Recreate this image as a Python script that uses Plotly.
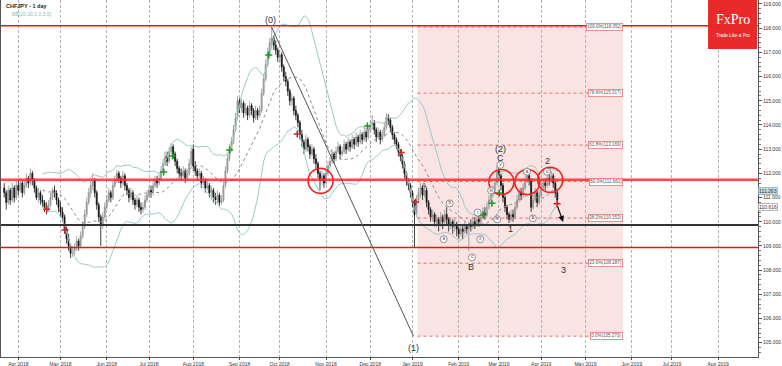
import numpy as np
import pandas as pd
import plotly.graph_objects as go

# ---------------- data (CHFJPY daily) ----------------
first_day = "2018-03-22"
opens = [
    111.4, 111.2, 110.8, 111.3, 110.9, 111.4, 111.0, 111.5, 111.3, 111.6,
    111.2, 111.5, 111.8, 111.6, 112.0, 111.7, 111.4, 111.0, 111.2, 110.9,
    110.8, 110.6, 110.5, 110.7, 111.0, 111.3, 111.2, 110.9, 110.6, 110.4,
    110.2, 109.7, 109.3, 109.0, 108.7, 108.8, 108.9, 109.2, 109.0, 109.4,
    109.8, 110.3, 110.8, 111.2, 111.5, 111.7, 111.2, 110.7, 110.2, 109.9,
    110.2, 110.6, 110.9, 111.2, 111.0, 111.5, 111.7, 112.0, 111.8, 111.6,
    111.9, 111.5, 111.3, 111.0, 111.2, 110.9, 110.7, 110.9, 110.6, 110.5,
    110.6, 110.9, 111.1, 111.3, 111.2, 111.5, 111.7, 111.6, 111.8, 112.1,
    112.4, 112.7, 112.5, 112.9, 113.1, 112.8, 112.5, 112.2, 112.0, 111.9,
    112.1, 111.8, 112.0, 112.4, 113.0, 112.3, 112.1, 111.9, 112.0, 111.6,
    111.7, 111.4, 111.5, 111.2, 111.3, 111.0, 110.9, 111.1, 110.8, 110.9,
    111.5, 112.1, 112.6, 113.0, 113.3, 113.8, 114.3, 115.0, 114.7, 114.9,
    114.5, 114.7, 114.4, 114.8, 114.6, 114.3, 114.6, 114.4, 114.6, 115.3,
    115.9, 116.5, 117.0, 117.4, 117.6, 117.3, 117.1, 116.8, 116.9, 116.4,
    116.0, 115.8, 115.4, 115.0, 115.1, 114.6, 114.4, 114.1, 113.6, 113.3,
    113.0, 113.4, 113.1, 112.8, 113.0, 112.6, 112.4, 112.0, 111.7, 111.9,
    111.6, 112.0, 112.3, 112.5, 112.8, 112.6, 112.9, 113.1, 112.8, 112.9,
    113.2, 113.0, 113.3, 113.1, 113.4, 113.2, 113.5, 113.3, 113.6, 113.4,
    113.7, 113.5, 113.8, 114.0, 114.1, 113.8, 113.5, 113.7, 113.4, 113.6,
    113.9, 114.3, 114.2, 113.9, 113.6, 113.4, 113.2, 112.9, 112.7, 112.4,
    112.0, 111.7, 111.5, 111.2, 110.8, 110.3, 110.9, 111.2, 111.4, 111.1,
    111.3, 110.8, 110.5, 110.2, 110.3, 110.0, 110.1, 109.9, 110.2, 110.0,
    110.3, 110.1, 109.9, 110.0, 109.8, 109.9, 109.7, 109.5, 109.7, 109.6,
    109.8, 109.7, 109.9, 109.8, 110.0, 109.9, 110.1, 110.0, 110.2, 110.4,
    110.3, 110.6, 110.9, 111.1, 111.3, 111.6, 112.1, 111.9, 111.5, 111.0,
    110.6, 110.3, 110.1, 110.3, 110.2, 110.6, 110.9, 111.2, 111.1, 111.4,
    111.7, 111.9, 111.7, 110.6, 110.9, 111.2, 110.8, 111.1, 111.4, 111.6,
    111.5, 111.8, 111.7, 111.9, 111.6, 111.2,
]
highs = [
    111.6, 111.3, 111.5, 111.4, 111.6, 111.5, 111.7, 111.7, 111.8, 111.7,
    111.7, 112.0, 111.9, 112.2, 112.1, 111.8, 111.5, 111.4, 111.3, 111.1,
    110.9, 110.8, 110.9, 111.2, 111.4, 111.5, 111.3, 111.0, 110.8, 110.6,
    110.3, 109.8, 109.5, 109.1, 109.0, 109.1, 109.4, 109.3, 109.6, 110.0,
    110.5, 111.0, 111.4, 111.7, 112.0, 111.8, 111.3, 110.8, 110.3, 110.4,
    110.8, 111.1, 111.4, 111.3, 111.7, 111.9, 112.15, 112.1, 111.9, 112.1,
    112.0, 111.6, 111.4, 111.4, 111.3, 111.0, 111.1, 111.0, 110.8, 110.8,
    111.1, 111.3, 111.5, 111.5, 111.7, 111.9, 111.9, 112.0, 112.3, 112.6,
    112.9, 112.9, 113.1, 113.25, 113.2, 112.9, 112.6, 112.3, 112.2, 112.3,
    112.2, 112.2, 112.6, 113.1, 113.2, 112.5, 112.2, 112.2, 112.1, 111.9,
    111.8, 111.7, 111.6, 111.5, 111.4, 111.2, 111.3, 111.2, 111.1, 111.7,
    112.3, 112.8, 113.2, 113.5, 114.0, 114.5, 115.2, 115.1, 115.1, 115.0,
    114.9, 114.8, 115.0, 114.9, 114.7, 114.8, 114.7, 114.8, 115.5, 116.1,
    116.7, 117.2, 117.6, 118.05, 117.7, 117.5, 117.2, 117.1, 117.0, 116.5,
    116.2, 115.9, 115.5, 115.3, 115.2, 114.8, 114.5, 114.2, 113.8, 113.4,
    113.6, 113.5, 113.2, 113.2, 113.1, 112.8, 112.5, 112.1, 112.1, 112.0,
    112.2, 112.5, 112.7, 113.0, 112.9, 113.1, 113.3, 113.2, 113.1, 113.4,
    113.3, 113.5, 113.4, 113.6, 113.5, 113.7, 113.6, 113.8, 113.7, 113.9,
    113.8, 114.0, 114.2, 114.4, 114.2, 113.9, 113.9, 113.8, 113.8, 114.1,
    114.5, 114.45, 114.3, 114.0, 113.7, 113.5, 113.3, 113.0, 112.8, 112.5,
    112.1, 111.8, 111.6, 111.3, 110.9, 111.1, 111.4, 111.6, 111.5, 111.5,
    111.4, 110.9, 110.6, 110.5, 110.4, 110.3, 110.2, 110.4, 110.3, 110.5,
    110.6, 110.2, 110.2, 110.1, 110.1, 110.0, 109.8, 109.9, 109.9, 110.0,
    109.9, 110.0, 110.1, 110.2, 110.2, 110.3, 110.3, 110.4, 110.6, 110.6,
    110.8, 111.1, 111.3, 111.5, 111.8, 112.3, 112.4, 112.0, 111.6, 111.1,
    110.7, 110.4, 110.5, 110.5, 110.8, 111.1, 111.4, 111.4, 111.6, 111.9,
    112.1, 112.0, 111.8, 111.1, 111.4, 111.3, 111.3, 111.6, 111.8, 111.8,
    112.0, 112.0, 112.1, 112.0, 111.7, 111.3,
]
lows = [
    111.0, 110.5, 110.7, 110.7, 110.8, 110.8, 110.9, 111.1, 111.2, 111.0,
    111.1, 111.4, 111.4, 111.5, 111.5, 111.2, 110.9, 110.8, 110.7, 110.6,
    110.4, 110.3, 110.4, 110.6, 110.9, 111.0, 110.7, 110.4, 110.2, 110.0,
    109.5, 109.1, 108.8, 108.5, 108.55, 108.6, 108.8, 108.8, 108.9, 109.3,
    109.7, 110.2, 110.7, 111.0, 111.3, 111.0, 110.5, 110.0, 109.0, 109.7,
    110.1, 110.5, 110.8, 110.8, 110.9, 111.4, 111.6, 111.6, 111.4, 111.5,
    111.3, 111.1, 110.8, 110.9, 110.7, 110.5, 110.6, 110.4, 110.3, 110.35,
    110.5, 110.8, 111.0, 111.0, 111.1, 111.4, 111.4, 111.5, 111.7, 112.0,
    112.3, 112.3, 112.4, 112.8, 112.6, 112.3, 112.0, 111.8, 111.7, 111.8,
    111.6, 111.7, 111.9, 112.3, 112.1, 111.9, 111.7, 111.8, 111.4, 111.5,
    111.2, 111.3, 111.0, 110.9, 110.8, 110.7, 110.75, 110.65, 110.7, 110.8,
    111.4, 112.0, 112.5, 112.9, 113.2, 113.7, 114.2, 114.5, 114.5, 114.3,
    114.4, 114.2, 114.3, 114.4, 114.1, 114.2, 114.2, 114.3, 114.5, 115.2,
    115.8, 116.4, 116.9, 117.2, 117.1, 116.9, 116.6, 116.6, 116.2, 115.8,
    115.6, 115.2, 114.8, 114.8, 114.4, 114.2, 113.9, 113.4, 113.1, 112.8,
    112.9, 112.9, 112.6, 112.7, 112.4, 112.2, 111.8, 111.3, 111.5, 111.4,
    111.5, 111.9, 112.2, 112.4, 112.4, 112.5, 112.8, 112.6, 112.7, 112.8,
    112.8, 112.9, 112.9, 113.0, 113.0, 113.1, 113.1, 113.2, 113.2, 113.3,
    113.3, 113.4, 113.7, 113.8, 113.6, 113.3, 113.4, 113.2, 113.3, 113.5,
    113.8, 114.0, 113.7, 113.4, 113.2, 113.0, 112.7, 112.5, 112.2, 111.8,
    111.5, 111.3, 111.0, 110.6, 108.95, 110.2, 110.8, 111.0, 110.9, 111.0,
    110.6, 110.3, 110.0, 110.0, 109.8, 109.8, 109.6, 109.8, 109.7, 109.9,
    109.9, 109.6, 109.7, 109.5, 109.6, 109.4, 109.3, 109.4, 109.3, 109.5,
    109.5, 108.8, 109.6, 109.7, 109.7, 109.8, 109.8, 109.9, 110.1, 110.1,
    110.2, 110.5, 110.8, 111.0, 111.2, 111.5, 111.7, 111.3, 110.8, 110.4,
    110.1, 109.95, 110.0, 110.0, 110.1, 110.5, 110.8, 110.9, 111.0, 111.3,
    111.6, 111.5, 110.4, 110.5, 110.8, 110.6, 110.7, 111.0, 111.3, 111.3,
    111.4, 111.5, 111.6, 111.4, 111.0, 110.7,
]
closes = [
    111.2, 110.8, 111.3, 110.9, 111.4, 111.0, 111.5, 111.3, 111.6, 111.2,
    111.5, 111.8, 111.6, 112.0, 111.7, 111.4, 111.0, 111.2, 110.9, 110.8,
    110.6, 110.5, 110.7, 111.0, 111.3, 111.2, 110.9, 110.6, 110.4, 110.2,
    109.7, 109.3, 109.0, 108.7, 108.8, 108.9, 109.2, 109.0, 109.4, 109.8,
    110.3, 110.8, 111.2, 111.5, 111.7, 111.2, 110.7, 110.2, 109.9, 110.2,
    110.6, 110.9, 111.2, 111.0, 111.5, 111.7, 112.0, 111.8, 111.6, 111.9,
    111.5, 111.3, 111.0, 111.2, 110.9, 110.7, 110.9, 110.6, 110.5, 110.6,
    110.9, 111.1, 111.3, 111.2, 111.5, 111.7, 111.6, 111.8, 112.1, 112.4,
    112.7, 112.5, 112.9, 113.1, 112.8, 112.5, 112.2, 112.0, 111.9, 112.1,
    111.8, 112.0, 112.4, 112.9, 112.3, 112.1, 111.9, 112.0, 111.6, 111.7,
    111.4, 111.5, 111.2, 111.3, 111.0, 110.9, 111.1, 110.8, 110.9, 111.5,
    112.1, 112.6, 113.0, 113.3, 113.8, 114.3, 115.0, 114.7, 114.9, 114.5,
    114.7, 114.4, 114.8, 114.6, 114.3, 114.6, 114.4, 114.6, 115.3, 115.9,
    116.5, 117.0, 117.4, 117.6, 117.3, 117.1, 116.8, 116.9, 116.4, 116.0,
    115.8, 115.4, 115.0, 115.1, 114.6, 114.4, 114.1, 113.6, 113.3, 113.0,
    113.4, 113.1, 112.8, 113.0, 112.6, 112.4, 112.0, 111.7, 111.9, 111.6,
    112.0, 112.3, 112.5, 112.8, 112.6, 112.9, 113.1, 112.8, 112.9, 113.2,
    113.0, 113.3, 113.1, 113.4, 113.2, 113.5, 113.3, 113.6, 113.4, 113.7,
    113.5, 113.8, 114.0, 114.1, 113.8, 113.5, 113.7, 113.4, 113.6, 113.9,
    114.3, 114.2, 113.9, 113.6, 113.4, 113.2, 112.9, 112.7, 112.4, 112.0,
    111.7, 111.5, 111.2, 110.8, 110.3, 110.9, 111.2, 111.4, 111.1, 111.3,
    110.8, 110.5, 110.2, 110.3, 110.0, 110.1, 109.9, 110.2, 110.0, 110.3,
    110.1, 109.9, 110.0, 109.8, 109.9, 109.7, 109.5, 109.7, 109.6, 109.8,
    109.7, 109.9, 109.8, 110.0, 109.9, 110.1, 110.0, 110.2, 110.4, 110.3,
    110.6, 110.9, 111.1, 111.3, 111.6, 112.1, 111.9, 111.5, 111.0, 110.6,
    110.3, 110.1, 110.3, 110.2, 110.6, 110.9, 111.2, 111.1, 111.4, 111.7,
    111.9, 111.7, 110.6, 110.9, 111.2, 110.8, 111.1, 111.4, 111.6, 111.5,
    111.8, 111.7, 111.9, 111.6, 111.2, 110.9,
]

# x-axis month labels (trading-day axis)
month_starts = ["2018-04", "2018-05", "2018-06", "2018-07", "2018-08", "2018-09",
                "2018-10", "2018-11", "2018-12", "2019-01", "2019-02", "2019-03",
                "2019-04", "2019-05", "2019-06", "2019-07", "2019-08"]
month_labels = ["Apr 2018", "May 2018", "Jun 2018", "Jul 2018", "Aug 2018", "Sep 2018",
                "Oct 2018", "Nov 2018", "Dec 2018", "Jan 2019", "Feb 2019", "Mar 2019",
                "Apr 2019", "May 2019", "Jun 2019", "Jul 2019", "Aug 2019"]
price_ticks = [105, 106, 107, 108, 109, 110, 111, 112, 113, 114, 115, 116, 117, 118, 119]

# Fibonacci retracement (0% = 105.270, 100% = 118.052)
fib_low, fib_high = 105.270, 118.052
fib_ratios = [0.0, 0.236, 0.382, 0.5, 0.618, 0.786, 1.0]

# horizontal support / resistance levels
red_levels = [118.10, 111.74, 108.94]
black_level = 109.87

# indicator signals (trading-day position, price)
red_signals = [(14.1, 110.52), (23.2, 109.66), (138.7, 113.63), (190.4, 112.86),
               (197.5, 110.82), (267.9, 110.74)]
green_signals = [(72.3, 112.06), (76.7, 112.72), (105.1, 112.97), (124.5, 116.89),
                 (173.6, 113.96), (231.2, 110.28), (235.5, 110.76), (239.1, 111.19)]

# wave labels
wave_labels = [("(0)", 125.5, 118.34), ("(1)", 196.5, 104.79), ("(2)", 239.7, 113.01),
               ("C", 239.7, 112.64), ("A", 201.9, 111.48), ("B", 225.3, 108.13),
               ("1", 244.6, 109.70), ("2", 263.0, 112.51), ("3", 270.9, 108.0)]
sub_labels = [("a", 211.5, 109.28), ("b", 214.5, 110.76), ("c", 225.6, 108.53),
              ("i", 228.4, 110.38), ("ii", 229.7, 109.28), ("iii", 235.1, 111.29),
              ("iv", 238.1, 110.10), ("v", 239.7, 112.35), ("a", 252.9, 112.07),
              ("b", 255.9, 110.14), ("c", 262.9, 112.07)]
circle_centers = [(150.3, 111.69), (240.2, 111.64), (253.1, 111.64), (264.5, 111.73)]

# ---------------- build ----------------
all_days = pd.bdate_range(first_day, "2019-09-30")
positions = np.arange(len(all_days)) - 7          # 2018-04-02 -> 0
xs = positions[:len(closes)]
tickvals = [int(positions[all_days >= pd.Timestamp(m + "-01")][0]) for m in month_starts]

cs = pd.Series(closes)
mid = cs.rolling(20).mean()
sd = cs.rolling(20).std(ddof=0)
upper = mid + 2.0 * sd
lower = mid - 2.0 * sd

fig = go.Figure()
band_col = "#9cc9c9"
fig.add_trace(go.Scatter(x=xs, y=upper, mode="lines", line=dict(color=band_col, width=1),
                         hoverinfo="skip", showlegend=False))
fig.add_trace(go.Scatter(x=xs, y=lower, mode="lines", line=dict(color=band_col, width=1),
                         hoverinfo="skip", showlegend=False))
fig.add_trace(go.Scatter(x=xs, y=mid, mode="lines", line=dict(color="#8a8a8a", width=1, dash="dot"),
                         hoverinfo="skip", showlegend=False))
fig.add_trace(go.Candlestick(
    x=xs, open=opens, high=highs, low=lows, close=closes,
    increasing=dict(line=dict(color="#909090", width=0.8), fillcolor="#a8a8a8"),
    decreasing=dict(line=dict(color="#111111", width=0.8), fillcolor="#111111"),
    whiskerwidth=0, showlegend=False))

fig.add_trace(go.Scatter(x=[p[0] for p in red_signals], y=[p[1] for p in red_signals],
                         mode="markers", marker=dict(symbol="cross-thin", size=5,
                         line=dict(color="#d02020", width=1.5)), showlegend=False))
fig.add_trace(go.Scatter(x=[p[0] for p in green_signals], y=[p[1] for p in green_signals],
                         mode="markers", marker=dict(symbol="cross-thin", size=5,
                         line=dict(color="#1a9a1a", width=1.5)), showlegend=False))
fig.add_trace(go.Scatter(x=[c[0] for c in circle_centers], y=[c[1] for c in circle_centers],
                         mode="markers", marker=dict(symbol="circle-open", size=25,
                         color="#ee2222", line=dict(color="#ee2222", width=1.6)),
                         hoverinfo="skip", showlegend=False))
fig.add_trace(go.Scatter(x=[s[1] for s in sub_labels], y=[s[2] for s in sub_labels],
                         mode="markers+text", text=[s[0] for s in sub_labels],
                         textposition="middle center",
                         textfont=dict(size=4.5, color="#444", family="Liberation Sans"),
                         marker=dict(symbol="circle", size=7, color="rgba(255,255,255,0.9)",
                                     line=dict(color="#666", width=0.7)),
                         showlegend=False))

shapes = []
fib_x0, fib_x1 = 198.5, 300.7
shapes.append(dict(type="rect", xref="x", yref="y", x0=fib_x0, x1=fib_x1, y0=fib_low, y1=fib_high,
                   fillcolor="rgba(240,175,175,0.35)", line=dict(width=0), layer="below"))
annotations = []
for r in fib_ratios:
    lv = fib_low + r * (fib_high - fib_low)
    shapes.append(dict(type="line", xref="x", yref="y", x0=fib_x0, x1=fib_x1, y0=lv, y1=lv,
                       line=dict(color="rgba(220,70,70,0.75)", width=1, dash="dot")))
    annotations.append(dict(x=fib_x1, y=lv, xref="x", yref="y", xanchor="right", yanchor="middle",
                            text=f"{r*100:.1f}%({lv:.3f})", showarrow=False,
                            font=dict(size=4.5, color="#555", family="Liberation Sans"),
                            bgcolor="white", bordercolor="rgba(210,90,90,0.8)", borderwidth=0.8,
                            borderpad=0.5))
for i, lv in enumerate(red_levels):
    shapes.append(dict(type="line", xref="paper", yref="y", x0=0, x1=1, y0=lv, y1=lv,
                       line=dict(color="rgba(255,40,40,0.85)" if i == 1 else "#ee1111",
                                 width=2.5 if i == 1 else 1.5)))
shapes.append(dict(type="line", xref="paper", yref="y", x0=0, x1=1, y0=black_level, y1=black_level,
                   line=dict(color="#333333", width=2)))
shapes.append(dict(type="line", xref="x", yref="y", x0=125.9, y0=fib_high, x1=196.5, y1=fib_low,
                   line=dict(color="#555555", width=1)))

# FxPro logo
shapes.append(dict(type="rect", xref="paper", yref="paper", x0=0.9340, x1=0.9987, y0=0.8627, y1=1.0,
                   fillcolor="#ea2a2a", line=dict(width=0)))
annotations.append(dict(x=0.9664, y=0.944, xref="paper", yref="paper", text="FxPro", showarrow=False,
                        font=dict(size=14, color="white", family="Liberation Serif"),
                        xanchor="center", yanchor="middle"))
annotations.append(dict(x=0.9664, y=0.9, xref="paper", yref="paper", text="Trade Like a Pro",
                        showarrow=False, font=dict(size=4.6, color="white", family="Liberation Sans"),
                        xanchor="center", yanchor="middle"))

for t, x, y in wave_labels:
    annotations.append(dict(x=x, y=y, xref="x", yref="y", text=t, showarrow=False,
                            font=dict(size=9, color="#333", family="Liberation Sans"),
                            xanchor="center", yanchor="middle"))

annotations.append(dict(x=270.9, y=109.99, ax=267.9, ay=110.69, xref="x", yref="y",
                        axref="x", ayref="y", text="", showarrow=True, arrowhead=2,
                        arrowsize=1, arrowwidth=1.2, arrowcolor="#111"))

annotations.append(dict(x=0.004, y=0.997, xref="paper", yref="paper", text="<b>CHFJPY - 1 day</b>",
                        showarrow=False, xanchor="left", yanchor="top",
                        font=dict(size=5.5, color="#222", family="Liberation Sans")))
annotations.append(dict(x=0.012, y=0.976, xref="paper", yref="paper", text="BB(20,20,2.0,3.0)",
                        showarrow=False, xanchor="left", yanchor="top",
                        font=dict(size=5, color="#7fb8bf", family="Liberation Sans")))

annotations.append(dict(x=1.0, y=111.263, xref="paper", yref="y", text="111.263", showarrow=False,
                        xanchor="left", yanchor="middle", bgcolor="#c4dce8", bordercolor="#7aa",
                        borderwidth=0.6, borderpad=0.5,
                        font=dict(size=5, color="#333", family="Liberation Sans")))
annotations.append(dict(x=1.0, y=110.616, xref="paper", yref="y", text="110.616", showarrow=False,
                        xanchor="left", yanchor="middle", bgcolor="white", bordercolor="#888",
                        borderwidth=0.6, borderpad=0.5,
                        font=dict(size=5, color="#333", family="Liberation Sans")))

fig.update_layout(
    width=782, height=366, autosize=False,
    margin=dict(l=1, r=24, t=0, b=9, pad=0),
    paper_bgcolor="white", plot_bgcolor="white",
    shapes=shapes, annotations=annotations, showlegend=False,
    font=dict(family="Liberation Sans", size=5, color="#333"),
    xaxis=dict(range=[-8.6, 367.8], tickvals=tickvals, ticktext=month_labels,
               showgrid=True, gridcolor="#b4b4b4", griddash="3px,2px", gridwidth=1,
               showline=True, linecolor="#555", linewidth=1, ticks="outside", ticklen=2,
               tickcolor="#555", tickfont=dict(size=5, color="#333"),
               rangeslider=dict(visible=False), zeroline=False, automargin=False),
    yaxis=dict(range=[104.41, 119.165], side="right", tickvals=price_ticks,
               ticktext=[f"{v:.3f}" for v in price_ticks], showgrid=False,
               showline=True, mirror=True, linecolor="#555", linewidth=1,
               ticks="outside", ticklen=3, tickcolor="#555",
               minor=dict(dtick=0.2, ticklen=1.5, tickcolor="#777", ticks="outside"),
               tickfont=dict(size=5, color="#333"), zeroline=False, automargin=False),
)

fig.write_html("out.html", config={"displayModeBar": False},
               post_script="document.body.style.margin='0';document.body.style.overflow='hidden';")
